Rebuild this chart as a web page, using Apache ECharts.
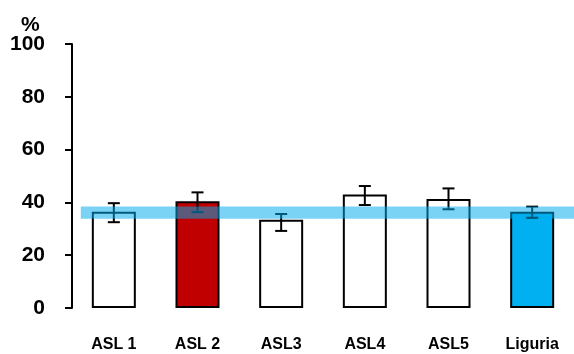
<!DOCTYPE html>
<html>
<head>
<meta charset="utf-8">
<script src="https://cdn.jsdelivr.net/npm/echarts@6/dist/echarts.min.js"></script>
<style>
  html, body { margin: 0; padding: 0; background: #fff; }
  #chart { width: 574px; height: 354px; }
</style>
</head>
<body>
<div id="chart"></div>
<script>
// Prevalence by local health unit (ASL), with 95% confidence intervals
var categories = ['ASL 1', 'ASL 2', 'ASL3', 'ASL4', 'ASL5', 'Liguria'];
var values     = [36.5, 40.4, 33.4, 43.0, 41.3, 36.5];
var ciLow      = [32.5, 36.3, 29.2, 39.0, 37.4, 34.2];
var ciHigh     = [39.7, 43.8, 35.6, 46.2, 45.3, 38.4];
var fillColors = ['#ffffff', '#c00000', '#ffffff', '#ffffff', '#ffffff', '#00b0f0'];
// Regional confidence band drawn across the chart
var regionBand = [33.8, 38.4];
var yTicks = { min: 0, max: 100, step: 20 };

var chart = echarts.init(document.getElementById('chart'));

var barData = values.map(function (v, i) {
  return { value: v, itemStyle: { color: fillColors[i] } };
});
var errData = categories.map(function (c, i) {
  return [i, ciLow[i], ciHigh[i]];
});

var font = 'Liberation Sans, Arial';

chart.setOption({
  animation: false,
  title: {
    text: '%',
    left: 16,
    top: 10,
    textStyle: { fontFamily: font, fontWeight: 'bold', fontSize: 21, color: '#000' }
  },
  grid: { left: 72, top: 44, width: 514, height: 264 },
  xAxis: {
    type: 'category',
    data: categories,
    axisLine: { show: false },
    axisTick: { show: false },
    axisLabel: {
      margin: 29,
      color: '#000',
      fontFamily: font,
      fontWeight: 'bold',
      fontSize: 16
    }
  },
  yAxis: {
    type: 'value',
    min: yTicks.min,
    max: yTicks.max,
    interval: yTicks.step,
    axisLine: { show: true, lineStyle: { color: '#000', width: 2 } },
    axisTick: { show: true, length: 7, lineStyle: { color: '#000', width: 2 } },
    splitLine: { show: false },
    axisLabel: {
      margin: 27,
      color: '#000',
      fontFamily: font,
      fontWeight: 'bold',
      fontSize: 21
    }
  },
  series: [
    {
      type: 'bar',
      data: barData,
      barWidth: 44,
      itemStyle: { borderColor: '#000', borderWidth: 2 },
      z: 2
    },
    {
      type: 'custom',
      data: errData,
      z: 3,
      renderItem: function (params, api) {
        var x = api.value(0);
        var lo = api.coord([x, api.value(1)]);
        var hi = api.coord([x, api.value(2)]);
        var cap = 6;
        var style = { stroke: '#000', lineWidth: 2 };
        return {
          type: 'group',
          children: [
            { type: 'line', shape: { x1: lo[0], y1: lo[1], x2: hi[0], y2: hi[1] }, style: style },
            { type: 'line', shape: { x1: hi[0] - cap, y1: hi[1], x2: hi[0] + cap, y2: hi[1] }, style: style },
            { type: 'line', shape: { x1: lo[0] - cap, y1: lo[1], x2: lo[0] + cap, y2: lo[1] }, style: style }
          ]
        };
      }
    },
    {
      type: 'custom',
      data: [[0, regionBand[0], regionBand[1]]],
      z: 4,
      clip: false,
      renderItem: function (params, api) {
        var bw = api.size([1, 0])[0];
        var top = api.coord([0, api.value(2)]);
        var bot = api.coord([0, api.value(1)]);
        var x0 = top[0] - 0.395 * bw;
        var x1 = params.coordSys.x + params.coordSys.width;
        return {
          type: 'rect',
          shape: { x: x0, y: top[1], width: x1 - x0, height: bot[1] - top[1] },
          style: { fill: 'rgba(0,170,235,0.52)' }
        };
      }
    }
  ]
});
</script>
</body>
</html>
